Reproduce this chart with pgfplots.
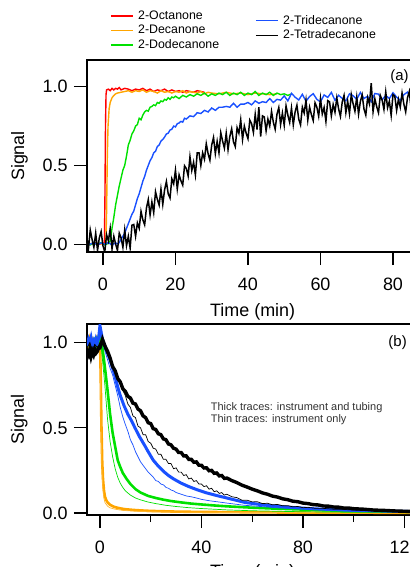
\documentclass[border=0pt]{standalone}
\usepackage{pgfplots}
\pgfplotsset{compat=1.18}
\usepackage{fontspec}
\setmainfont{Liberation Sans}
\definecolor{cred}{RGB}{255,0,0}
\definecolor{corange}{RGB}{255,165,0}
\definecolor{cgreen}{RGB}{0,225,0}
\definecolor{cblue}{RGB}{25,80,255}
\begin{document}
\begin{tikzpicture}
\pgfplotsset{
  myax/.style={
    scale only axis,
    axis line style={line width=1.2bp},
    tick style={line width=1.2bp, black},
    tick align=outside,
    tick pos=left,
    major tick length=13bp,
    minor tick length=7bp,
    font=\fontsize{18}{21}\selectfont,
    tick label style={font=\fontsize{18}{21}\selectfont},
    xticklabel style={yshift=-9bp},
    yticklabel style={xshift=-3bp, /pgf/number format/fixed, /pgf/number format/fixed zerofill, /pgf/number format/precision=1},
    /pgf/number format/assume math mode=true,
    ytick={0,0.5,1},
    ylabel={Signal},
    xlabel={Time (min)},
    ylabel style={rotate=0, at={(axis description cs:-0.184,0.5)}, anchor=base},
    legend cell align=left,
    legend image code/.code={\draw[#1, line width=1.5bp] (0bp,0bp) -- (22bp,0bp);},
    legend style={draw=none, fill=none, inner sep=0pt, row sep=3.3bp,
      font=\fontsize{12.4}{14}\selectfont, nodes={inner sep=0.5bp},
      /tikz/every odd column/.append style={column sep=4bp}},
  }
}
% ---------------- Panel (a) ----------------
\begin{axis}[myax,
  at={(87bp,-252bp)}, anchor=south west,
  width=342.25bp, height=192bp,
  xmin=-4.4, xmax=90, ymin=-0.05, ymax=1.17,
  xtick={0,20,40,60,80},
  xlabel style={at={(axis description cs:0.484,0)}, anchor=base, yshift=-64bp},
  legend style={at={(axis description cs:0.0672,1.26)}, anchor=north west},
]
\addplot[cred, line width=1.4bp, forget plot] coordinates {
(-4.4,0.005) (-3,0.0) (-2,0.008) (-1,0.0) (0,0.005) (0.4,0.0) (0.55,0.3) (0.7,0.75) (0.85,0.95) (1.0,0.98) (1.5,0.985) (2,0.975) (2.5,0.99) (3,0.98) (3.5,0.99) (4,0.985) (4.5,0.995) (5,0.98) (6,0.99) (7,0.985) (8,0.975) (9,0.985) (10,0.98) (11,0.99) (12,0.975) (13,0.985) (14,0.97) (15,0.98) (16,0.975) (17,0.985) (18,0.97) (19,0.98) (20,0.97) (21,0.975) (22,0.965) (23,0.975) (24,0.97) (25,0.965) (26,0.975) (27,0.97) (28,0.965)
};
\addplot[corange, line width=1.4bp, forget plot] coordinates {
(-4.4,0.0) (-3,0.005) (-2,0.0) (-1,0.006) (0,0.0) (0.8,0.002) (1.0,0.2) (1.2,0.55) (1.4,0.75) (1.7,0.86) (2.0,0.9) (2.5,0.93) (3,0.945) (3.5,0.955) (4,0.96) (5,0.965) (6,0.97) (7,0.975) (8,0.965) (9,0.975) (10,0.97) (11,0.98) (12,0.965) (13,0.975) (14,0.97) (15,0.96) (16,0.975) (17,0.965) (18,0.97) (19,0.96) (20,0.97) (21,0.965) (22,0.975) (23,0.96) (24,0.97) (25,0.965) (26,0.96) (27,0.97) (28,0.955) (29,0.965) (30,0.96) (32,0.955) (34,0.965) (36,0.955) (38,0.96) (40,0.95) (42,0.96) (44,0.955) (46,0.95) (48,0.955)
};
\addplot[cgreen, line width=1.4bp, forget plot] coordinates {
(-4.4,0.01) (-3.5,-0.005) (-2.5,0.008) (-1.5,0.0) (-0.5,0.01) (0.5,-0.005) (1.5,0.005) (2.0,0.02) (2.5,0.1) (3,0.17) (3.5,0.25) (4,0.31) (4.5,0.37) (5,0.42) (5.5,0.47) (6,0.5) (6.5,0.56) (7,0.63) (7.5,0.66) (8,0.7) (8.5,0.72) (9,0.75) (9.5,0.76) (10,0.8) (10.5,0.79) (11,0.82) (11.5,0.84) (12,0.85) (12.5,0.845) (13,0.87) (13.5,0.875) (14,0.885) (14.5,0.88) (15,0.9) (15.5,0.895) (16,0.91) (16.5,0.905) (17,0.92) (17.5,0.915) (18,0.93) (18.5,0.92) (19,0.935) (19.5,0.93) (20,0.94) (21,0.925) (22,0.945) (23,0.935) (24,0.95) (25,0.94) (26,0.955) (27,0.945) (28,0.96) (29,0.94) (30,0.955) (31,0.945) (32,0.96) (33,0.95) (34,0.965) (35,0.945) (36,0.96) (37,0.95) (38,0.965) (39,0.945) (40,0.96) (41,0.95) (42,0.97) (43,0.945) (44,0.96) (45,0.95) (46,0.965) (47,0.945) (48,0.96) (49,0.95) (50,0.955) (51,0.945) (52,0.955)
};
\addplot[cblue, line width=1.4bp, forget plot] coordinates {
(-4.4,0.005) (-3.5,0.0) (-2.5,0.01) (-1.5,-0.005) (-0.5,0.008) (0.5,0.0) (1.5,0.01) (2.5,-0.005) (3.5,0.008) (4.2,0.0) (5,0.03) (5.5,0.05) (6,0.07) (6.5,0.1) (7,0.13) (7.5,0.16) (8,0.19) (8.5,0.21) (9,0.25) (9.5,0.29) (10,0.32) (10.5,0.36) (11,0.4) (11.5,0.43) (12,0.47) (12.5,0.5) (13,0.53) (13.5,0.55) (14,0.58) (14.5,0.59) (15,0.62) (15.5,0.63) (16,0.655) (16.5,0.665) (17,0.68) (17.5,0.7) (18,0.705) (18.5,0.725) (19,0.73) (19.5,0.75) (20,0.745) (20.5,0.765) (21,0.77) (21.5,0.78) (22,0.775) (22.5,0.80) (23,0.795) (24,0.815) (25,0.81) (26,0.835) (27,0.83) (28,0.85) (29,0.84) (30,0.865) (31,0.85) (32,0.87) (33,0.87) (34,0.875) (35,0.87) (36,0.895) (37,0.87) (38,0.89) (39,0.89) (40,0.9) (41,0.885) (42,0.91) (43,0.895) (44,0.905) (45,0.9) (46,0.925) (47,0.9) (48,0.92) (49,0.915) (50,0.942) (51,0.91) (52,0.958) (53,0.934) (54,0.916) (55,0.952) (56,0.908) (57,0.938) (58,0.956) (59,0.92) (60,0.904) (61,0.948) (62,0.932) (63,0.964) (64,0.914) (65,0.946) (66,0.926) (67,0.91) (68,0.955) (69,0.943) (70,0.92) (71,0.964) (72,0.925) (73,0.94) (74,0.905) (75,0.957) (76,0.953) (77,0.917) (78,0.945) (79,0.925) (80,0.962) (81,0.934) (82,0.914) (83,0.95) (84,0.966) (85,0.922) (86,0.95) (87,0.918) (88,0.966) (89,0.942) (90,0.92)
};
\addplot[black, line width=1.5bp, forget plot] coordinates {
(-4.5,0.05) (-4.0,-0.03) (-3.5,0.09) (-3.0,0.03) (-2.5,-0.02) (-2.0,0.07) (-1.5,-0.04) (-1.0,0.04) (-0.5,0.08) (0.0,-0.01) (0.5,-0.05) (1.0,0.06) (1.5,0.02) (2.0,0.10) (2.5,-0.03) (3.0,0.05) (3.5,0.0) (4.0,-0.04) (4.5,0.07) (5.0,0.04) (5.5,-0.02) (6.0,0.09) (6.5,-0.01) (7.0,0.05) (7.5,-0.025) (8.0,0.12) (8.5,0.125) (9.0,0.05) (9.5,0.135) (10.0,0.10) (10.5,0.208) (11.0,0.155) (11.5,0.123) (12.0,0.23) (12.5,0.283) (13.0,0.185) (13.5,0.268) (14.0,0.20) (14.5,0.333) (15.0,0.285) (15.5,0.248) (16.0,0.35) (16.5,0.253) (17.0,0.345) (17.5,0.398) (18.0,0.32) (18.5,0.293) (19.0,0.415) (19.5,0.383) (20.0,0.47) (20.5,0.35) (21.0,0.44) (21.5,0.403) (22.0,0.375) (22.5,0.498) (23.0,0.48) (23.5,0.433) (24.0,0.555) (24.5,0.468) (25.0,0.52) (25.5,0.44) (26.0,0.58) (26.5,0.58) (27.0,0.50) (27.5,0.58) (28.0,0.54) (28.5,0.638) (29.0,0.575) (29.5,0.533) (30.0,0.63) (30.5,0.678) (31.0,0.575) (31.5,0.653) (32.0,0.58) (32.5,0.708) (33.0,0.655) (33.5,0.61) (34.0,0.705) (34.5,0.60) (35.0,0.685) (35.5,0.733) (36.0,0.65) (36.5,0.62) (37.0,0.74) (37.5,0.705) (38.0,0.79) (38.5,0.665) (39.0,0.75) (39.5,0.705) (40.0,0.67) (40.5,0.788) (41.0,0.765) (41.5,0.71) (42.0,0.825) (42.5,0.728) (43.0,0.87) (43.5,0.683) (44.0,0.815) (44.5,0.808) (45.0,0.72) (45.5,0.795) (46.0,0.75) (46.5,0.843) (47.0,0.775) (47.5,0.73) (48.0,0.825) (48.5,0.868) (49.0,0.76) (49.5,0.833) (50.0,0.755) (50.5,0.878) (51.0,0.82) (51.5,0.773) (52.0,0.865) (52.5,0.758) (53.0,0.84) (53.5,0.883) (54.0,0.795) (54.5,0.758) (55.0,0.87) (55.5,0.833) (56.0,0.915) (56.5,0.788) (57.0,0.87) (57.5,0.823) (58.0,0.785) (58.5,0.898) (59.0,0.87) (59.5,0.813) (60.0,0.925) (60.5,0.827) (61.0,0.868) (61.5,0.78) (62.0,0.912) (62.5,0.904) (63.0,0.815) (63.5,0.887) (64.0,0.838) (64.5,0.929) (65.0,0.86) (65.5,0.812) (66.0,0.903) (66.5,0.945) (67.0,0.836) (67.5,0.908) (68.0,0.829) (68.5,0.95) (69.0,0.892) (69.5,0.844) (70.0,0.935) (70.5,0.826) (71.0,0.907) (71.5,0.948) (72.0,0.859) (72.5,0.82) (73.0,0.93) (73.5,0.891) (74.0,1.022) (74.5,0.842) (75.0,0.923) (75.5,0.874) (76.0,0.835) (76.5,0.945) (77.0,0.916) (77.5,0.856) (78.0,0.967) (78.5,0.867) (79.0,0.908) (79.5,0.818) (80.0,0.95) (80.5,0.94) (81.0,0.85) (81.5,0.92) (82.0,0.87) (82.5,0.96) (83.0,0.89) (83.5,0.84) (84.0,0.93) (84.5,0.97) (85.0,0.86) (85.5,0.93) (86.0,0.85) (86.5,0.97) (87.0,0.91) (87.5,0.86) (88.0,0.95) (88.5,0.84) (89.0,0.92) (89.5,0.96) (90.0,0.87)
};
\addlegendimage{cred}
\addlegendentry{2-Octanone}
\addlegendimage{corange}
\addlegendentry{2-Decanone}
\addlegendimage{cgreen}
\addlegendentry{2-Dodecanone}
\node[anchor=west, inner sep=0pt, font=\fontsize{15}{17}\selectfont] at (axis cs:79.2,1.064) {(a)};
\end{axis}
% ---------------- Panel (b) ----------------
\begin{axis}[myax,
  at={(87bp,-515bp)}, anchor=south west,
  width=342.9bp, height=191bp,
  xmin=-5.1, xmax=130, ymin=-0.012, ymax=1.11,
  xtick={0,40,80,120}, minor xtick={20,60,100},
  xlabel style={at={(axis description cs:0.483,0)}, anchor=base, yshift=-62bp},
  legend style={at={(axis description cs:0.49,2.62)}, anchor=north west},
]
\addplot[corange, line width=2.6bp, forget plot] coordinates {
(-5.1,1.0) (-4.5,0.98) (-4,1.02) (-3.5,0.99) (-3,1.01) (-2.5,0.97) (-2,1.0) (-1.5,1.02) (-1,0.98) (-0.5,1.01) (0,1.04) (0.3,0.8) (0.6,0.5) (0.9,0.3) (1.2,0.2) (1.6,0.13) (2,0.095) (2.5,0.075) (3,0.062) (4,0.048) (5,0.04) (6,0.034) (8,0.027) (10,0.022) (13,0.018) (16,0.015) (20,0.012) (25,0.01) (30,0.008) (40,0.006) (50,0.005) (70,0.003) (90,0.002) (130,0.001)
};
\addplot[corange!80!white, line width=0.7bp, forget plot] coordinates {
(-5.1,1.0) (-4,0.99) (-3,1.01) (-2,0.99) (-1,1.0) (0,1.02) (0.2,0.75) (0.5,0.45) (0.8,0.25) (1.1,0.15) (1.5,0.09) (2,0.06) (3,0.04) (4,0.03) (6,0.022) (9,0.015) (14,0.01) (20,0.007) (30,0.005) (50,0.003) (130,0.001)
};
\addplot[cgreen, line width=0.7bp, forget plot] coordinates {
(-5.1,1.0) (-4,1.02) (-3,0.98) (-2,1.01) (-1,0.99) (0,1.03) (0.5,0.97) (1,0.9) (2,0.74) (3,0.55) (4,0.42) (5,0.33) (6,0.26) (7,0.21) (8,0.175) (9,0.15) (10,0.13) (12,0.105) (14,0.088) (16,0.077) (19,0.064) (22,0.055) (26,0.045) (30,0.038) (35,0.031) (40,0.026) (50,0.018) (60,0.013) (80,0.007) (100,0.004) (130,0.002)
};
\addplot[cgreen, line width=2.6bp, forget plot] coordinates {
(-5.1,0.99) (-4.5,1.01) (-4,0.98) (-3.5,1.02) (-3,1.0) (-2.5,0.98) (-2,1.01) (-1.5,0.99) (-1,1.02) (-0.5,1.0) (0,1.05) (0.5,1.0) (1,0.97) (2,0.85) (3,0.72) (4,0.58) (5,0.47) (6,0.39) (7,0.31) (8,0.27) (9,0.235) (10.5,0.2) (12,0.17) (14,0.14) (16,0.12) (19,0.1) (22,0.088) (25,0.078) (28,0.07) (32,0.062) (36,0.055) (40,0.05) (45,0.044) (50,0.039) (60,0.031) (70,0.025) (80,0.02) (90,0.015) (100,0.012) (110,0.009) (130,0.005)
};
\addplot[cblue, line width=0.7bp, forget plot] coordinates {
(-5.1,1.0) (-4,1.03) (-3,0.99) (-2,1.02) (-1,1.0) (0,1.08) (0.5,1.04) (1,1.0) (2,0.95) (3,0.9) (4,0.85) (5,0.81) (6,0.75) (7,0.69) (8,0.62) (9,0.565) (10,0.52) (11,0.48) (12,0.43) (13,0.4) (14,0.36) (15,0.33) (16,0.3) (17,0.28) (18,0.26) (19,0.24) (20,0.225) (21,0.21) (22,0.19) (23,0.185) (24,0.17) (25,0.165) (26,0.15) (27,0.145) (28,0.135) (29,0.13) (30,0.12) (32,0.11) (34,0.1) (36,0.095) (38,0.088) (40,0.08) (43,0.072) (46.6,0.065) (50,0.058) (57,0.045) (65,0.036) (70,0.03) (85,0.02) (100,0.013) (130,0.006)
};
\addplot[cblue, line width=3bp, forget plot] coordinates {
(-5.1,0.98) (-4.5,1.02) (-4,1.0) (-3.5,1.03) (-3,0.99) (-2.5,1.01) (-2,0.98) (-1.5,1.02) (-1,1.0) (-0.5,1.03) (0,1.1) (0.5,1.06) (1,1.02) (2,0.98) (3,0.94) (4,0.9) (5,0.85) (6,0.8) (7,0.74) (8,0.69) (9.5,0.63) (11,0.58) (12.5,0.54) (13.8,0.5) (15.5,0.45) (17.5,0.4) (19,0.36) (21,0.31) (23,0.275) (25,0.245) (27,0.22) (29,0.2) (32,0.175) (35,0.155) (38,0.138) (42,0.118) (46.6,0.1) (50,0.088) (57,0.062) (65,0.046) (75,0.033) (85,0.024) (100,0.015) (130,0.006)
};
\addplot[black, line width=0.7bp, forget plot] coordinates {
(-5.1,0.97) (-4,1.0) (-3,0.96) (-2,0.99) (-1,0.97) (0,1.0) (1,1.02) (2,0.96) (3,0.93) (4,0.9) (5,0.87) (6,0.84) (7,0.8) (8,0.77) (9,0.72) (10,0.69) (11,0.64) (12,0.62) (13,0.57) (14,0.56) (15,0.51) (16,0.5) (17,0.46) (18,0.46) (19,0.42) (20,0.41) (21,0.38) (22,0.375) (23,0.345) (24,0.345) (25,0.315) (26,0.315) (27,0.29) (28,0.29) (29,0.26) (30,0.265) (31,0.24) (32,0.24) (33,0.22) (34,0.225) (35,0.2) (36,0.205) (37,0.185) (38,0.19) (39,0.17) (40,0.17) (41,0.155) (42,0.16) (43,0.14) (44,0.145) (45,0.125) (46,0.13) (47,0.115) (48,0.12) (49,0.105) (50,0.11) (52,0.095) (54,0.09) (56,0.075) (58,0.075) (60,0.065) (62,0.066) (64,0.055) (66,0.057) (68,0.048) (70,0.05) (72,0.042) (74,0.043) (76,0.036) (78,0.038) (80,0.031) (82,0.033) (85,0.027) (88,0.027) (92,0.022) (96,0.021) (100,0.017) (105,0.016) (110,0.012) (120,0.01) (130,0.007)
};
\addplot[black, line width=3.4bp, forget plot] coordinates {
(-5.1,0.95) (-4.5,0.93) (-4,0.96) (-3.5,0.92) (-3,0.95) (-2.5,0.93) (-2,0.96) (-1.5,0.94) (-1,0.95) (-0.5,0.97) (0,0.97) (1,1.02) (2,0.98) (3,0.95) (4,0.91) (5,0.86) (6,0.835) (7,0.79) (8,0.77) (9,0.73) (10,0.715) (11,0.685) (12,0.675) (13,0.645) (14,0.64) (15,0.61) (16,0.6) (17,0.57) (18,0.56) (19,0.53) (20,0.525) (21,0.495) (22,0.49) (23,0.465) (24,0.46) (25,0.435) (26,0.43) (27,0.405) (28,0.4) (29,0.38) (30,0.375) (31,0.355) (32,0.355) (33,0.335) (34,0.335) (35,0.315) (36,0.315) (37,0.298) (38,0.3) (39,0.28) (40,0.28) (41,0.264) (42,0.265) (43,0.248) (44,0.25) (45,0.233) (46,0.235) (47,0.218) (48,0.22) (49,0.203) (50,0.205) (52,0.19) (54,0.178) (56,0.163) (58,0.152) (60,0.14) (62,0.13) (64,0.118) (66,0.11) (68,0.099) (70,0.093) (72,0.083) (74,0.078) (76,0.069) (78,0.066) (80,0.058) (82,0.055) (84,0.049) (86,0.047) (88,0.041) (90,0.04) (92,0.035) (94,0.034) (96,0.029) (98,0.029) (100,0.025) (104,0.022) (108,0.017) (112,0.015) (116,0.012) (120,0.01) (124,0.008) (130,0.006)
};
\addlegendimage{cblue}
\addlegendentry{2-Tridecanone}
\addlegendimage{black}
\addlegendentry{2-Tetradecanone}
\node[anchor=west, inner sep=0pt, align=left, text=black!80, font=\fontsize{11}{11.7}\selectfont] at (axis cs:43.6,0.585) {Thick traces: instrument and tubing\\Thin traces: instrument only};
\node[anchor=west, inner sep=0pt, font=\fontsize{15}{17}\selectfont] at (axis cs:113.6,0.998) {(b)};
\end{axis}
\pgfresetboundingbox
\useasboundingbox (0bp,-567bp) rectangle (410bp,0bp);
\end{tikzpicture}
\end{document}
